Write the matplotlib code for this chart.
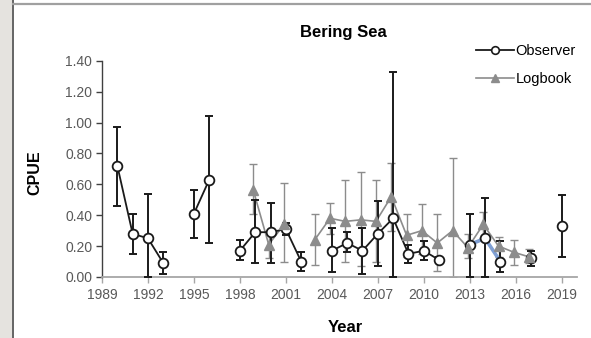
import numpy as np
import pandas as pd
import matplotlib
matplotlib.use("Agg")
import matplotlib.pyplot as plt
from matplotlib.lines import Line2D
from matplotlib.patches import Rectangle

plt.rcParams["font.family"] = ["Liberation Sans", "DejaVu Sans"]

# Observer CPUE with lower/upper bounds
obs_years = [1990, 1991, 1992, 1993, 1995, 1996, 1998, 1999, 2000, 2001, 2002,
             2004, 2005, 2006, 2007, 2008, 2009, 2010, 2011, 2013, 2014, 2015,
             2017, 2019]
obs_cpue = [0.72, 0.28, 0.25, 0.09, 0.41, 0.63, 0.17, 0.29, 0.29, 0.31, 0.10,
            0.17, 0.22, 0.17, 0.28, 0.38, 0.15, 0.17, 0.11, 0.21, 0.25, 0.10,
            0.12, 0.33]
obs_low = [0.46, 0.15, 0.00, 0.02, 0.25, 0.22, 0.11, 0.09, 0.09, 0.27, 0.04,
           0.03, 0.16, 0.02, 0.07, 0.00, 0.09, 0.11, 0.09, 0.00, 0.00, 0.03,
           0.07, 0.13]
obs_high = [0.97, 0.41, 0.54, 0.16, 0.56, 1.04, 0.24, 0.50, 0.48, 0.35, 0.16,
            0.32, 0.29, 0.32, 0.49, 1.33, 0.21, 0.23, 0.13, 0.41, 0.51, 0.23,
            0.17, 0.53]

# Logbook CPUE with lower/upper bounds
log_years = [1999, 2000, 2001, 2003, 2004, 2005, 2006, 2007, 2008, 2009, 2010,
             2011, 2012, 2013, 2014, 2015, 2016, 2017]
log_cpue = [0.56, 0.21, 0.34, 0.24, 0.38, 0.36, 0.37, 0.36, 0.52, 0.27, 0.30,
            0.22, 0.30, 0.19, 0.34, 0.20, 0.16, 0.13]
log_low = [0.41, 0.12, 0.10, 0.08, 0.28, 0.10, 0.07, 0.10, 0.30, 0.13, 0.15,
           0.04, 0.00, 0.12, 0.25, 0.13, 0.08, 0.09]
log_high = [0.73, 0.30, 0.61, 0.41, 0.48, 0.63, 0.68, 0.63, 0.74, 0.41, 0.47,
            0.41, 0.77, 0.28, 0.42, 0.26, 0.24, 0.18]

x_ticks = [1989, 1992, 1995, 1998, 2001, 2004, 2007, 2010, 2013, 2016, 2019]
y_ticks = [0.0, 0.2, 0.4, 0.6, 0.8, 1.0, 1.2, 1.4]
highlight_years = [2013, 2014, 2015]

LOG_SHIFT = -0.12
GRAY = "#8c8c8c"
TICK_COLOR = "#595959"


def on_full_range(years, values):
    """Reindex onto consecutive years so missing years break the line."""
    s = pd.Series(values, index=years)
    full = np.arange(min(years), max(years) + 1)
    return full, s.reindex(full).to_numpy()


fig = plt.figure(figsize=(5.91, 3.38), dpi=100)

# Window frame around the chart
fig.patches.append(Rectangle((0, 0), 12 / 591, 1, transform=fig.transFigure,
                             facecolor="#e5e3df", edgecolor="none", zorder=0))
fig.lines.append(Line2D([12.5 / 591, 12.5 / 591], [0, 1], transform=fig.transFigure,
                        color="#4a4a4a", lw=1.2))
fig.lines.append(Line2D([13 / 591, 1], [1 - 4 / 338, 1 - 4 / 338],
                        transform=fig.transFigure, color="#a0a0a0", lw=1.6))

ax = fig.add_axes([102 / 591, 1 - 277 / 338, (577 - 102) / 591, (277 - 60.7) / 338])

# Logbook series
lx = np.array(log_years) + LOG_SHIFT
lc = np.array(log_cpue)
ax.errorbar(lx, lc, yerr=[lc - np.array(log_low), np.array(log_high) - lc],
            fmt="none", ecolor=GRAY, elinewidth=1.0, capsize=2.6, capthick=1.0,
            zorder=2)
fx, fv = on_full_range(log_years, log_cpue)
ax.plot(fx + LOG_SHIFT, fv, color=GRAY, lw=1.2, zorder=2.1)

# Observer series
ox = np.array(obs_years)
oc = np.array(obs_cpue)
ax.errorbar(ox, oc, yerr=[oc - np.array(obs_low), np.array(obs_high) - oc],
            fmt="none", ecolor="#1a1a1a", elinewidth=1.4, capsize=2.6,
            capthick=1.4, zorder=3)
fx, fv = on_full_range(obs_years, obs_cpue)
ax.plot(fx, fv, color="#1a1a1a", lw=1.3, zorder=3.1)

# Highlighted observer segment
hv = [obs_cpue[obs_years.index(y)] for y in highlight_years]
ax.plot(highlight_years, hv, color="#7f9fd3", lw=2.6, zorder=3.2,
        solid_capstyle="round")

ax.plot(ox, oc, ls="none", marker="o", ms=7.0, mfc="white", mec="#1a1a1a",
        mew=1.3, zorder=4)
ax.plot(lx, lc, ls="none", marker="^", ms=6.5, mfc=GRAY, mec=GRAY, zorder=4.5)

ax.set_xlim(1989, 2020)
ax.set_ylim(0, 1.4)
ax.set_xticks(x_ticks)
ax.set_xticklabels([str(y) for y in x_ticks])
ax.set_yticks(y_ticks)
ax.set_yticklabels([f"{v:.2f}" for v in y_ticks])
ax.tick_params(axis="both", labelsize=10, labelcolor=TICK_COLOR, length=4,
               width=1.0, direction="out", pad=3)
ax.tick_params(axis="x", pad=4)
ax.tick_params(axis="y", color="#404040")
ax.tick_params(axis="x", color="#a6a6a6")

for side in ("top", "right"):
    ax.spines[side].set_visible(False)
ax.spines["left"].set_color("#404040")
ax.spines["left"].set_linewidth(1.0)
ax.spines["bottom"].set_color("#a6a6a6")
ax.spines["bottom"].set_linewidth(1.3)

fig.text(343 / 591, 1 - 32.5 / 338, "Bering Sea", ha="center", va="center",
         fontsize=12, fontweight="bold")
fig.text(35 / 591, 1 - 173 / 338, "CPUE", rotation=90, ha="center", va="center",
         fontsize=11.5, fontweight="bold")
fig.text(345 / 591, 1 - 327 / 338, "Year", ha="center", va="center",
         fontsize=12, fontweight="bold")

handles = [
    Line2D([], [], color="#1a1a1a", lw=1.3, marker="o", ms=5.5, mfc="white",
           mec="#1a1a1a", mew=1.2),
    Line2D([], [], color=GRAY, lw=1.2, marker="^", ms=5.5, mfc=GRAY, mec=GRAY),
]
fig.legend(handles, ["Observer", "Logbook"], loc="upper left",
           bbox_to_anchor=(476 / 591, 1 - 44 / 338), frameon=False,
           fontsize=10.5, handlelength=2.6, handletextpad=0.1,
           labelspacing=0.95, borderpad=0, borderaxespad=0)

fig.savefig("out.png", dpi=100)
